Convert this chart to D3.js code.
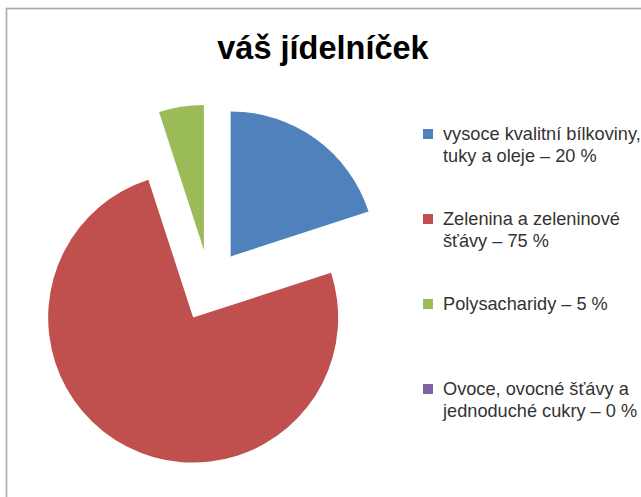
<!DOCTYPE html>
<html>
<head>
<meta charset="utf-8">
<script src="https://cdn.jsdelivr.net/npm/d3@7"></script>
<style>
  body { margin: 0; background: #fff; }
  svg { display: block; font-family: "Liberation Sans", Arial, sans-serif; }
</style>
</head>
<body>
<svg id="chart"></svg>
<script>
let title = 'váš jídelníček';
let labels = [
    ['vysoce kvalitní bílkoviny,', 'tuky a oleje – 20 %'],
    ['Zelenina a zeleninové', 'šťávy – 75 %'],
    ['Polysacharidy – 5 %'],
    ['Ovoce, ovocné šťávy a', 'jednoduché cukry – 0 %']
];
let values = [20, 75, 5, 0];
let colors = ['#4f81bd', '#c0504d', '#9bbb59', '#8064a2'];

let width = 641;
let height = 497;
let cx = 209.5, cy = 285.5;
let radius = 145;
let explode = 36;

let svg = d3.select('#chart')
    .attr('width', width)
    .attr('height', height);

// frame of the chart area, cut off at the right and bottom
svg.append('rect')
    .attr('x', 6.5).attr('y', 8.5)
    .attr('width', width + 20).attr('height', height + 20)
    .attr('fill', 'none')
    .attr('stroke', '#a8a8a8')
    .attr('stroke-width', 1.6);

svg.append('text')
    .attr('x', 323).attr('y', 59)
    .attr('text-anchor', 'middle')
    .attr('font-size', 32.5)
    .attr('font-weight', 'bold')
    .attr('fill', '#000')
    .text(title);

let pie = d3.pie().sort(null).value(d => d);
let arcs = pie(values);
let arc = d3.arc().innerRadius(0).outerRadius(radius);

svg.append('g')
    .attr('transform', 'translate(' + cx + ',' + cy + ')')
    .selectAll('path')
    .data(arcs.filter(d => d.value > 0))
    .enter()
    .append('path')
    .attr('d', arc)
    .attr('fill', d => colors[d.index])
    .attr('transform', d => {
        let mid = (d.startAngle + d.endAngle) / 2;
        return 'translate(' + (Math.sin(mid) * explode) + ',' + (-Math.cos(mid) * explode) + ')';
    });

let legendY = d3.scalePoint()
    .domain(d3.range(labels.length))
    .range([134, 389]);

let legend = svg.append('g')
    .selectAll('g')
    .data(labels)
    .enter()
    .append('g')
    .attr('transform', (d, i) => 'translate(0,' + legendY(i) + ')');

legend.append('rect')
    .attr('x', 423).attr('y', -5)
    .attr('width', 10).attr('height', 10)
    .attr('fill', (d, i) => colors[i]);

legend.append('text')
    .attr('x', 443)
    .attr('y', 6)
    .attr('font-size', 18.2)
    .attr('fill', '#333')
    .selectAll('tspan')
    .data(d => d)
    .enter()
    .append('tspan')
    .attr('x', 443)
    .attr('dy', (d, i) => i === 0 ? 0 : 22)
    .text(d => d);
</script>
</body>
</html>
